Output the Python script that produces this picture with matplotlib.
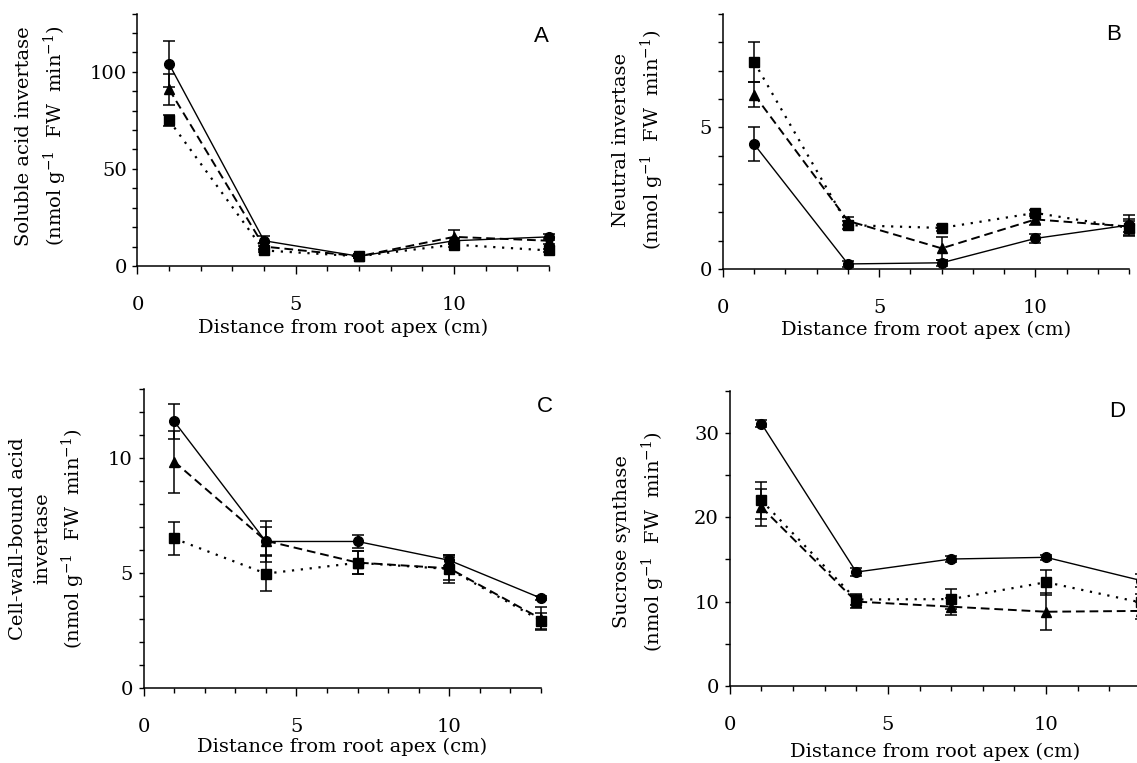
import matplotlib
matplotlib.use("Agg")
import matplotlib.pyplot as plt
from matplotlib.ticker import MultipleLocator

plt.rcParams['font.family'] = ['DejaVu Serif']
plt.rcParams['mathtext.fontset'] = 'dejavuserif'
plt.rcParams['mathtext.default'] = 'regular'

distance = [1, 4, 7, 10, 13]

# Panel A: soluble acid invertase
A_circle = [104, 13, 5, 13, 15]
A_circle_err = [12, 2.5, 1, 1.5, 1.5]
A_tri = [91, 10, 5, 15, 13]
A_tri_err = [8, 2, 1, 3.5, 1.5]
A_sq = [75, 8, 5, 11, 8]
A_sq_err = [3, 1, 1, 1, 1]

# Panel B: neutral invertase
B_circle = [4.4, 0.18, 0.22, 1.08, 1.55]
B_circle_err = [0.6, 0.1, 0.1, 0.15, 0.35]
B_tri = [6.15, 1.7, 0.73, 1.75, 1.5]
B_tri_err = [0.45, 0.15, 0.4, 0.2, 0.2]
B_sq = [7.3, 1.55, 1.45, 1.98, 1.45]
B_sq_err = [0.7, 0.15, 0.1, 0.1, 0.3]

# Panel C: cell-wall-bound acid invertase
C_circle = [11.6, 6.37, 6.37, 5.55, 3.9]
C_circle_err = [0.75, 0.9, 0.3, 0.25, 0.1]
C_tri = [9.85, 6.4, 5.45, 5.2, 3.0]
C_tri_err = [1.35, 0.6, 0.5, 0.5, 0.5]
C_sq = [6.5, 4.97, 5.44, 5.17, 2.92]
C_sq_err = [0.72, 0.75, 0.5, 0.6, 0.35]

# Panel D: sucrose synthase
D_circle = [31.1, 13.5, 15.05, 15.25, 12.5]
D_circle_err = [0.4, 0.5, 0.3, 0.3, 0.8]
D_tri = [21.2, 10.0, 9.4, 8.8, 8.9]
D_tri_err = [2.2, 0.8, 1.0, 2.2, 1.0]
D_sq = [22.0, 10.25, 10.3, 12.3, 9.9]
D_sq_err = [2.2, 0.6, 1.2, 1.5, 1.0]

xlabel = "Distance from root apex (cm)"
unit = "(nmol g$^{-1}$  FW  min$^{-1}$)"

fig = plt.figure(figsize=(11.37, 7.63), dpi=100)

panels = [
    dict(rect=[0.1209, 0.6514, 0.3619, 0.3308],
         data=(A_circle, A_circle_err, A_tri, A_tri_err, A_sq, A_sq_err),
         ylim=130, major=50, minor=10,
         ylabel="Soluble acid invertase\n" + unit, letter="A",
         lpos=(1.0, 0.91), ylx=-0.232, yly=0.515, xlab_off=-0.245),
    dict(rect=[0.6359, 0.6474, 0.3571, 0.3343],
         data=(B_circle, B_circle_err, B_tri, B_tri_err, B_sq, B_sq_err),
         ylim=9, major=5, minor=1,
         ylabel="Neutral invertase\n" + unit, letter="B",
         lpos=(0.98, 0.918), ylx=-0.206, yly=0.506, xlab_off=-0.24),
    dict(rect=[0.1263, 0.0987, 0.3495, 0.3911],
         data=(C_circle, C_circle_err, C_tri, C_tri_err, C_sq, C_sq_err),
         ylim=13, major=5, minor=1,
         ylabel="Cell-wall-bound acid\ninvertase\n" + unit, letter="C",
         lpos=(1.03, 0.942), ylx=-0.24, yly=0.50, xlab_off=-0.198),
    dict(rect=[0.6418, 0.1009, 0.3617, 0.3871],
         data=(D_circle, D_circle_err, D_tri, D_tri_err, D_sq, D_sq_err),
         ylim=35, major=10, minor=5,
         ylabel="Sucrose synthase\n" + unit, letter="D",
         lpos=(0.961, 0.929), ylx=-0.219, yly=0.489, xlab_off=-0.223),
]

for p in panels:
    ax = fig.add_axes(p["rect"])
    c, ce, t, te, s, se = p["data"]
    ax.errorbar(distance, c, yerr=ce, color='black', ls='-', lw=1.0,
                marker='o', ms=7, capsize=4, elinewidth=1.1, capthick=1.1,
                clip_on=False, zorder=3)
    ax.errorbar(distance, t, yerr=te, color='black', ls=(0, (4.5, 2.5)), lw=1.4,
                marker='^', ms=7, capsize=4, elinewidth=1.1, capthick=1.1,
                clip_on=False, zorder=3)
    ax.errorbar(distance, s, yerr=se, color='black', ls=(0, (1, 3)), lw=1.6,
                marker='s', ms=6.5, capsize=4, elinewidth=1.1, capthick=1.1,
                clip_on=False, zorder=3)
    ax.set_xlim(0, 13)
    ax.set_ylim(0, p["ylim"])
    ax.xaxis.set_major_locator(MultipleLocator(5))
    ax.xaxis.set_minor_locator(MultipleLocator(1))
    ax.yaxis.set_major_locator(MultipleLocator(p["major"]))
    ax.yaxis.set_minor_locator(MultipleLocator(p["minor"]))
    for side in ("top", "right"):
        ax.spines[side].set_visible(False)
    for side in ("left", "bottom"):
        ax.spines[side].set_linewidth(1.1)
    ax.tick_params(axis='x', which='major', direction='out', length=5.5, width=1.0,
                   pad=16, labelsize=14)
    ax.tick_params(axis='x', which='minor', direction='out', length=3.8, width=1.0)
    ax.tick_params(axis='y', which='both', direction='out', length=3.8, width=1.0,
                   pad=4, labelsize=14)
    ax.text(0.5, p["xlab_off"], xlabel, transform=ax.transAxes, ha='center',
            va='center', fontsize=14)
    ax.text(p["ylx"], p["yly"], p["ylabel"], transform=ax.transAxes, rotation=90,
            ha='center', va='center', fontsize=14, linespacing=1.45,
            multialignment='center')
    ax.text(p["lpos"][0], p["lpos"][1], p["letter"], transform=ax.transAxes,
            ha='right', va='center', fontsize=16, family=['Liberation Sans', 'DejaVu Sans'])

fig.savefig("out.png", dpi=100)
